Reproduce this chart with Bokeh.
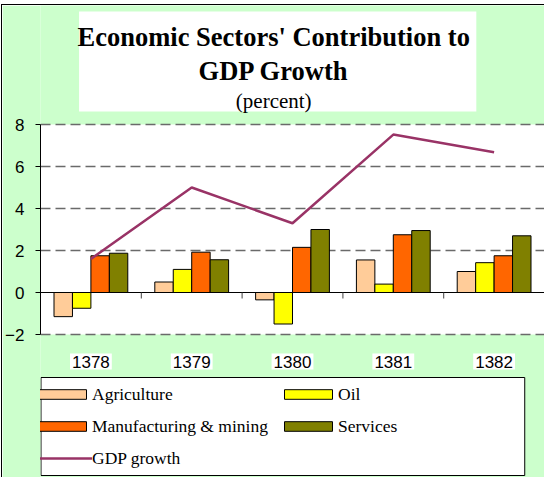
from bokeh.plotting import figure
from bokeh.models import (Range1d, FixedTicker, Label, BoxAnnotation,
                          Legend, LegendItem)
from bokeh.embed import file_html
from bokeh.resources import INLINE

# ---------------- data ----------------
years = ["1378", "1379", "1380", "1381", "1382"]
agriculture = [-1.15, 0.50, -0.35, 1.55, 1.00]
oil = [-0.75, 1.10, -1.50, 0.40, 1.42]
manufacturing = [1.75, 1.92, 2.15, 2.75, 1.75]
services = [1.87, 1.56, 3.00, 2.95, 2.70]
gdp_growth = [1.60, 5.00, 3.30, 7.52, 6.68]
y_ticks = [-2, 0, 2, 4, 6, 8]

series_names = ["Agriculture", "Oil", "Manufacturing & mining", "Services"]
series_values = [agriculture, oil, manufacturing, services]
series_colors = ["#FFCC99", "#FFFF00", "#FF6600", "#808000"]
line_name = "GDP growth"
line_color = "#993366"

title_line1 = "Economic Sectors' Contribution to"
title_line2 = "GDP Growth"
subtitle = "(percent)"

# ---------------- layout ----------------
OX, OY = 10, 13            # page position of the figure's content
W, H = 553 - OX, 486 - OY
PLOT_L, PLOT_R = 42, 552   # page x of plot area edges
PLOT_T, PLOT_B = 132, 342  # page y of plot area edges
YMIN, YMAX = -2, 8
N = len(years)
PX = (PLOT_R - PLOT_L) / N
PY = (PLOT_B - PLOT_T) / (YMAX - YMIN)


def sx(img_x):
    return (img_x - PLOT_L) / PX


def sy(img_y):
    return YMIN + (PLOT_B - img_y) / PY


p = figure(width=W, height=H,
           x_range=Range1d(0, sx(OX + W)),
           y_range=Range1d(sy(OY + H), sy(OY)),
           output_backend="svg", toolbar_location=None,
           min_border_left=PLOT_L - OX, min_border_right=0,
           min_border_top=0, min_border_bottom=0,
           background_fill_color="#CCFFCC", border_fill_color="#CCFFCC",
           outline_line_color=None)
p.margin = (OY - 1 - 8, 0, 0, OX - 1 - 8)
p.styles = {"border-left": "1px solid black", "border-top": "1px solid black"}

# white plot area
p.add_layout(BoxAnnotation(left=0, right=N, bottom=YMIN, top=YMAX,
                           fill_color="white", fill_alpha=1, line_color=None,
                           level="image"))
# title box
p.add_layout(BoxAnnotation(left=sx(81), right=sx(483), top=sy(19), bottom=sy(119),
                           fill_color="white", fill_alpha=1, line_color=None,
                           level="underlay"))
# legend box
p.add_layout(BoxAnnotation(left=sx(42.5), right=sx(532), top=sy(385), bottom=sy(483),
                           fill_color="white", fill_alpha=1, line_color="black",
                           line_alpha=1, line_width=1, level="underlay"))

# titles
for txt, ypix, style, size in [(title_line1, 44.5, "bold", "26.5px"),
                               (title_line2, 78, "bold", "26.5px"),
                               (subtitle, 108, "normal", "21px")]:
    p.add_layout(Label(x=sx(278), y=sy(ypix), text=txt, text_align="center",
                       text_baseline="alphabetic", text_font="Liberation Serif",
                       text_font_style=style, text_font_size=size,
                       text_color="black"))

# axes
p.xaxis.visible = False
p.xgrid.visible = False
yax = p.yaxis[0]
yax.ticker = FixedTicker(ticks=y_ticks)
yax.bounds = (YMIN, YMAX)
yax.major_tick_out = 5
yax.major_tick_in = 0
yax.minor_tick_out = 0
yax.minor_tick_in = 0
yax.major_label_standoff = 11
yax.axis_line_color = "black"
yax.major_tick_line_color = "black"
yax.major_label_text_font = "Liberation Sans"
yax.major_label_text_font_size = "17px"
yax.major_label_text_color = "black"

p.ygrid.ticker = FixedTicker(ticks=[t for t in y_ticks if t != 0])
p.ygrid.grid_line_color = "#6A6A6A"
p.ygrid.grid_line_dash = "10 5"
p.ygrid.grid_line_width = 1.5

for i, yr in enumerate(years):
    p.add_layout(Label(x=i + 0.5, y=sy(369), text=yr, text_align="center",
                       text_baseline="middle", text_font="Liberation Sans",
                       text_font_size="17px", text_color="black",
                       background_fill_color="white", padding=2))

# bars
centers = [i + 0.5 for i in range(N)]
bar_w = 0.183
offsets = [-1.5 * bar_w, -0.5 * bar_w, 0.5 * bar_w, 1.5 * bar_w]
renderers = []
for vals, col, off in zip(series_values, series_colors, offsets):
    r = p.vbar(x=[c + off for c in centers], top=vals, bottom=0, width=bar_w,
               fill_color=col, line_color="black", line_width=1)
    renderers.append(r)

# zero line, boundary ticks, right border
p.segment(x0=[0], y0=[0], x1=[N], y1=[0], line_color="black", line_width=1)
p.segment(x0=list(range(1, N)), y0=[0] * (N - 1), x1=list(range(1, N)),
          y1=[-6 / PY] * (N - 1), line_color="#404040", line_width=1)
p.segment(x0=[N], y0=[YMIN], x1=[N], y1=[YMAX], line_color="#A0A0A0", line_width=1)

# GDP line
lr = p.line(x=centers, y=gdp_growth, line_color=line_color, line_width=2.5)

items = [LegendItem(label=n, renderers=[r]) for n, r in zip(series_names, renderers)]
items.append(LegendItem(label=line_name, renderers=[lr]))
legend = Legend(items=items, location=(-8, 6), orientation="horizontal", ncols=2,
                glyph_width=60, glyph_height=12, label_height=28, label_width=182,
                label_standoff=0, spacing=4, padding=0, margin=0,
                border_line_alpha=0, background_fill_alpha=0,
                label_text_font="Liberation Serif",
                label_text_font_size="17.5px", label_text_color="black")
p.add_layout(legend)

open("out.html", "w").write(file_html(p, INLINE))
